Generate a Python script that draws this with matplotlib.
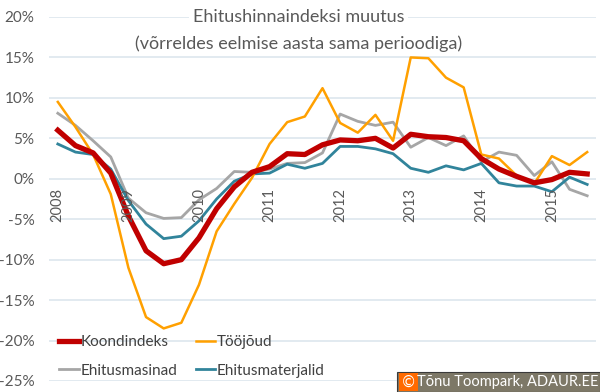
import numpy as np
import matplotlib
matplotlib.use("Agg")
import matplotlib.pyplot as plt
from matplotlib.patches import Rectangle

# quarterly data, 2008 Q1 ... 2015 Q3
years = ['2008', '2009', '2010', '2011', '2012', '2013', '2014', '2015']
koondindeks = [6.0, 4.1, 3.2, 0.7, -4.6, -8.9, -10.5, -10.0, -7.3, -3.7, -1.0, 0.8,
               1.5, 3.1, 3.0, 4.2, 4.8, 4.7, 5.0, 3.8, 5.5, 5.2, 5.1, 4.7,
               2.5, 1.2, 0.3, -0.5, -0.1, 0.8, 0.6]
toojoud = [9.5, 6.4, 3.0, -1.9, -11.0, -17.1, -18.5, -17.8, -13.1, -6.5, -3.1, 0.1,
           4.3, 7.0, 7.7, 11.2, 6.9, 5.7, 7.9, 4.7, 15.0, 14.9, 12.5, 11.3,
           3.0, 2.5, 0.4, -0.6, 2.8, 1.7, 3.3]
masinad = [8.1, 6.6, 4.7, 2.7, -2.4, -4.2, -4.9, -4.8, -2.6, -1.2, 0.9, 0.8,
           1.2, 1.9, 2.0, 3.2, 8.0, 7.1, 6.6, 7.0, 3.9, 5.1, 4.1, 5.3,
           2.1, 3.3, 2.9, 0.4, 2.1, -1.3, -2.1]
materjalid = [4.3, 3.3, 3.0, 1.2, -2.7, -5.6, -7.4, -7.1, -5.2, -2.5, -0.3, 0.6,
              0.7, 1.8, 1.3, 1.9, 4.0, 4.0, 3.7, 3.1, 1.3, 0.8, 1.6, 1.1,
              1.9, -0.5, -0.9, -0.9, -1.6, 0.2, -0.7]
yticks = [20, 15, 10, 5, 0, -5, -10, -15, -20, -25]

plt.rcParams['font.family'] = ['Lato', 'DejaVu Sans']
txt = '#595959'

fig = plt.figure(figsize=(6, 3.92), dpi=100)
ax = fig.add_axes([49 / 600, 1 - 381 / 392, 547 / 600, 364 / 392])

x = np.arange(len(koondindeks))
ax.plot(x, masinad, color='#a6a6a6', lw=2.0, label='Ehitusmasinad', zorder=3)
ax.plot(x, materjalid, color='#31849b', lw=2.0, label='Ehitusmaterjalid', zorder=3)
ax.plot(x, toojoud, color='#ffa000', lw=1.8, label='Tööjõud', zorder=4)
ax.plot(x, koondindeks, color='#c00000', lw=3.8, label='Koondindeks', zorder=5)

ax.set_xlim(-0.5, len(x) - 0.5)
ax.set_ylim(-25, 20)
ax.set_yticks(yticks)
ax.set_yticklabels([f'{v}%' for v in yticks], color=txt, fontsize=11)
ax.tick_params(axis='y', length=0, pad=10.5)
ax.set_xticks([])
ax.grid(axis='y', color='#dde6ee', lw=1.2, zorder=0)
for s in ax.spines.values():
    s.set_visible(False)

for k, yr in enumerate(years):
    ax.text(k * 4, -1.1, yr, rotation=90, ha='center', va='top',
            color=txt, fontsize=10.5, zorder=6)

# title, two lines; only the first one hides the top gridline
ax.text(0.456, 1.0, 'Ehitushinnaindeksi muutus', transform=ax.transAxes,
        ha='center', va='center', fontsize=13, color=txt, zorder=2,
        bbox=dict(facecolor='white', edgecolor='none', pad=3))
ax.text(0.456, 0.927, '(võrreldes eelmise aasta sama perioodiga)', transform=ax.transAxes,
        ha='center', va='center', fontsize=13, color=txt, zorder=2)

h, l = ax.get_legend_handles_labels()
order = [3, 0, 2, 1]
leg = fig.legend([h[i] for i in order], [l[i] for i in order], ncol=2,
                 loc='upper left', bbox_to_anchor=(59 / 600, 1 - 335 / 392),
                 frameon=False, fontsize=11, handlelength=1.3, handletextpad=0.1,
                 columnspacing=1.2, labelspacing=0.95, borderpad=0, borderaxespad=0)
for t in leg.get_texts():
    t.set_color('#404040')

# copyright badge
fig.patches.append(Rectangle((397 / 600, 0), 203 / 600, 20 / 392, transform=fig.transFigure,
                             facecolor='#7d7867', edgecolor='#3a3a3a', lw=0.8, zorder=10))
fig.patches.append(Rectangle((399 / 600, 1 / 392), 19 / 600, 18 / 392, transform=fig.transFigure,
                             facecolor='#ff6a00', edgecolor='none', zorder=11))
fig.text(408.5 / 600, 10 / 392, '©', ha='center', va='center', color='white',
         fontsize=11, zorder=12, family='DejaVu Sans')
fig.text(508 / 600, 10 / 392, 'Tõnu Toompark, ADAUR.EE', ha='center', va='center',
         color='white', fontsize=10.5, zorder=12)

fig.savefig('out.png', dpi=100)
